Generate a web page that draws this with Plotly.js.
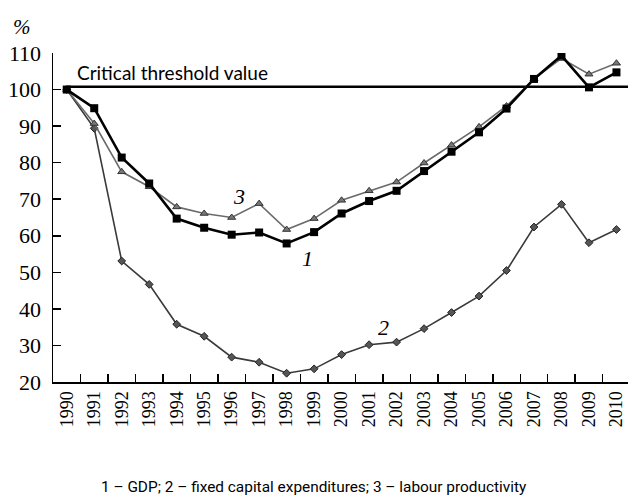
<!DOCTYPE html>
<html>
<head>
<meta charset="utf-8">
<script src="https://cdn.plot.ly/plotly-3.0.1.min.js"></script>
<style>
html,body{margin:0;padding:0;background:#fff;}
#chart{width:628px;height:498px;}
</style>
</head>
<body>
<div id="chart"></div>
<script>
// Data
const years = [1990,1991,1992,1993,1994,1995,1996,1997,1998,1999,2000,2001,2002,2003,2004,2005,2006,2007,2008,2009,2010];
const gdp = [100,94.9,81.4,74.3,64.7,62.2,60.3,60.9,57.9,61.0,66.1,69.5,72.3,77.7,83.0,88.3,94.8,102.9,109.3,100.6,104.7];
const fixedCapital = [100,89.4,53.1,46.7,35.8,32.5,26.8,25.4,22.4,23.6,27.5,30.2,30.9,34.6,39.0,43.5,50.5,62.4,68.6,58.1,61.7];
const labourProductivity = [100,90.7,77.5,73.4,67.9,66.1,65.0,68.8,61.7,64.7,69.7,72.3,74.7,79.9,84.8,89.8,95.5,102.9,108.5,104.2,107.2];
const thresholdValue = 100.8;
const thresholdLabel = "Critical threshold value";
const yTicks = [20,30,40,50,60,70,80,90,100,110];
const xTickLabels = years.map(String);
const minorTicks = [1990.5,1991.5,1992.5,1993.5,1994.5,1995.5,1996.5,1997.5,1998.5,1999.5,2000.5,2001.5,2002.5,2003.5,2004.5,2005.5,2006.5,2007.5,2008.5,2009.5];
const caption = "1 – GDP; 2 – fixed capital expenditures; 3 – labour productivity";

const xRange = [1989.5, 2010.42];
const serif = "'Liberation Serif', 'Times New Roman', serif";

const traces = [
  {x: years, y: fixedCapital, mode: 'lines+markers', name: '2',
   line: {color: '#3a3a3a', width: 1.6},
   marker: {symbol: 'diamond', size: 6, color: '#555', line: {color: '#222', width: 1}}},
  {x: years, y: labourProductivity, mode: 'lines+markers', name: '3',
   line: {color: '#6a6a6a', width: 1.6},
   marker: {symbol: 'triangle-up', size: 7, color: '#777', line: {color: '#333', width: 1}}},
  {x: years, y: gdp, mode: 'lines+markers', name: '1',
   line: {color: '#000', width: 2.6},
   marker: {symbol: 'square', size: 8, color: '#000'}},
  {x: minorTicks, y: minorTicks.map(() => 20), xaxis: 'x2', mode: 'markers',
   marker: {opacity: 0}, hoverinfo: 'skip', showlegend: false}
];

const layout = {
  width: 628, height: 498,
  margin: {l: 53, r: 0, t: 53, b: 116},
  paper_bgcolor: '#fff', plot_bgcolor: '#fff',
  showlegend: false,
  font: {family: serif, color: '#000'},
  xaxis: {
    range: xRange, tickvals: years, ticktext: xTickLabels,
    tickangle: -90, ticks: '', ticklen: 0,
    ticklabeloverflow: 'allow',
    tickfont: {family: serif, size: 18, color: '#000'},
    showgrid: false, zeroline: false,
    showline: true, linecolor: '#000', linewidth: 2
  },
  xaxis2: {
    range: xRange, overlaying: 'x', anchor: 'y', side: 'bottom',
    tickvals: minorTicks, ticks: 'inside', ticklen: 8, tickwidth: 1.5, tickcolor: '#000',
    showticklabels: false, showgrid: false, zeroline: false, showline: false
  },
  yaxis: {
    range: [20, 110], tickvals: yTicks,
    ticks: 'inside', ticklen: 8, tickwidth: 1.5, tickcolor: '#000',
    tickfont: {family: serif, size: 22, color: '#000'},
    ticklabelstandoff: 6,
    showgrid: false, zeroline: false,
    showline: true, linecolor: '#000', linewidth: 1.5
  },
  shapes: [
    {type: 'line', xref: 'x', yref: 'y', x0: years[0], x1: xRange[1],
     y0: thresholdValue, y1: thresholdValue, line: {color: '#000', width: 2.5}, layer: 'below'}
  ],
  annotations: [
    {text: thresholdLabel, xref: 'x', yref: 'y', x: 1990.3, y: 104.8,
     xanchor: 'left', yanchor: 'middle', showarrow: false,
     font: {family: 'Lato, sans-serif', size: 19, color: '#000'}},
    {text: '%', xref: 'paper', yref: 'paper', x: -0.054, y: 1.08,
     xanchor: 'center', yanchor: 'middle', showarrow: false,
     font: {family: serif, size: 21, color: '#000', style: 'italic'}},
    {text: '3', xref: 'x', yref: 'y', x: 1996.25, y: 70.8, showarrow: false,
     font: {family: serif, size: 22, color: '#000', style: 'italic'}},
    {text: '1', xref: 'x', yref: 'y', x: 1998.77, y: 53.8, showarrow: false,
     font: {family: serif, size: 22, color: '#000', style: 'italic'}},
    {text: '2', xref: 'x', yref: 'y', x: 2001.54, y: 35.0, showarrow: false,
     font: {family: serif, size: 22, color: '#000', style: 'italic'}},
    {text: caption, xref: 'paper', yref: 'paper', x: 0.454, y: -0.32,
     xanchor: 'center', yanchor: 'middle', showarrow: false,
     font: {family: 'Roboto, sans-serif', size: 15.4, color: '#000'}}
  ]
};

Plotly.newPlot('chart', traces, layout, {staticPlot: true, displayModeBar: false});
</script>
</body>
</html>
